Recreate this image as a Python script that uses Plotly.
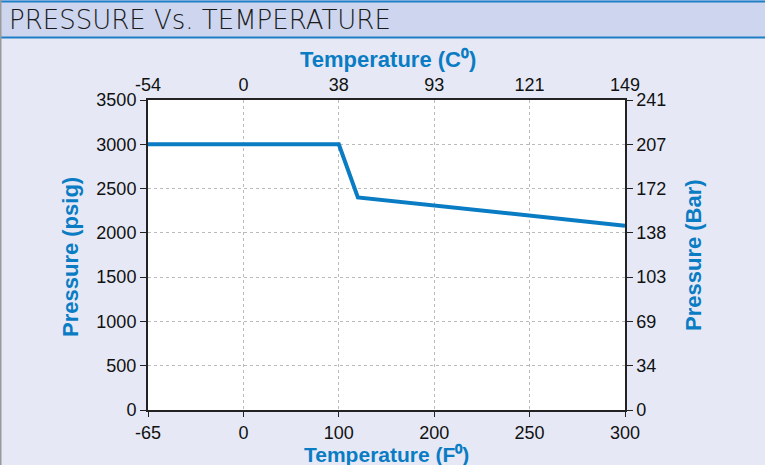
import numpy as np
import plotly.graph_objects as go

# Tick labels (evenly spaced on the chart)
temp_f_ticks = [-65, 0, 100, 200, 250, 300]
temp_c_ticks = ["-54", "0", "38", "93", "121", "149"]
psig_ticks = [0, 500, 1000, 1500, 2000, 2500, 3000, 3500]
bar_ticks = ["0", "34", "69", "103", "138", "172", "207", "241"]

# Series
temp_f = [-65, 100, 120, 300]
pressure_psig = [3000, 3000, 2400, 2080]

# Axis positions: ticks are evenly spaced, so map F values piecewise onto tick index
tick_pos = list(range(len(temp_f_ticks)))
x_pos = np.interp(temp_f, temp_f_ticks, tick_pos)

blue = "#0a7cc4"
bg = "#e6e9f5"
tickfont = dict(family="Liberation Sans, Arial", size=18, color="#111111")
titlefont = dict(family="Liberation Sans, Arial", size=22, color=blue)

fig = go.Figure()
fig.add_trace(go.Scatter(x=x_pos, y=pressure_psig, mode="lines",
                         line=dict(color=blue, width=4), showlegend=False,
                         hoverinfo="skip"))
fig.add_trace(go.Scatter(x=x_pos, y=pressure_psig, mode="lines", xaxis="x2", yaxis="y2",
                         line=dict(color="rgba(0,0,0,0)", width=0), showlegend=False,
                         hoverinfo="skip"))

common_x = dict(range=[0, len(temp_f_ticks) - 1], tickvals=tick_pos, showline=True,
                linecolor="#222222", linewidth=2, ticks="outside", ticklen=6,
                tickcolor="#222222", tickfont=tickfont, zeroline=False, automargin=False)
common_y = dict(range=[0, 3500], tickvals=psig_ticks, showline=True,
                linecolor="#222222", linewidth=2, ticks="outside", ticklen=6,
                tickcolor="#222222", tickfont=tickfont, zeroline=False, automargin=False)

# plot area in pixels: x 148..625, y 100..410
def px(xp):
    return (xp - 148) / 477.0

def py(yp):
    return (410 - yp) / 310.0

fig.update_layout(
    width=765, height=465,
    margin=dict(l=148, r=140, t=100, b=55),
    paper_bgcolor=bg,
    plot_bgcolor="#ffffff",
    xaxis=dict(common_x, ticktext=[str(v) for v in temp_f_ticks], ticklen=5,
               showgrid=True, gridcolor="#bbbbbb", griddash="dot", gridwidth=1),
    xaxis2=dict(common_x, ticktext=temp_c_ticks, overlaying="x", side="top",
                showgrid=False, linewidth=1.5, ticks=""),
    yaxis=dict(common_y, ticktext=[str(v) for v in psig_ticks],
               showgrid=True, gridcolor="#bbbbbb", griddash="dot", gridwidth=1),
    yaxis2=dict(common_y, ticktext=bar_ticks, overlaying="y", side="right",
                showgrid=False, linewidth=1.5),
    shapes=[
        dict(type="rect", xref="paper", yref="paper", x0=px(-5), x1=px(770),
             y0=py(37), y1=py(-5), fillcolor="#cdd6ee", line=dict(width=0), layer="below"),
        dict(type="line", xref="paper", yref="paper", x0=px(-5), x1=px(770),
             y0=py(37.5), y1=py(37.5), line=dict(color="#1f7fc6", width=2)),
        dict(type="line", xref="paper", yref="paper", x0=px(-5), x1=px(770),
             y0=py(1.5), y1=py(1.5), line=dict(color="#1f7fc6", width=2)),
        dict(type="line", xref="paper", yref="paper", x0=px(0.75), x1=px(0.75),
             y0=py(0), y1=py(470), line=dict(color="#9a9a9a", width=1.5)),
    ],
    annotations=[
        dict(text="PRESSURE Vs. TEMPERATURE", xref="paper", yref="paper",
             x=px(7), y=py(20), xanchor="left", yanchor="middle", showarrow=False,
             font=dict(family="DejaVu Sans", size=26, weight=200, color="#1a1a1a")),
        dict(text="<b>Temperature (C⁰)</b>", xref="paper", yref="paper",
             x=px(388), y=py(60), xanchor="center", yanchor="middle", showarrow=False,
             font=titlefont),
        dict(text="<b>Temperature (F⁰)</b>", xref="paper", yref="paper",
             x=px(386), y=py(454), xanchor="center", yanchor="middle", showarrow=False,
             font=dict(titlefont, size=21)),
        dict(text="<b>Pressure (psig)</b>", xref="paper", yref="paper",
             x=px(70), y=py(257), xanchor="center", yanchor="middle", showarrow=False,
             textangle=-90, font=titlefont),
        dict(text="<b>Pressure (Bar)</b>", xref="paper", yref="paper",
             x=px(693), y=py(255), xanchor="center", yanchor="middle", showarrow=False,
             textangle=-90, font=titlefont),
    ],
)

fig.write_html("out.html", config={"displayModeBar": False},
               post_script="document.body.style.margin='0';"
                           "document.body.style.background='%s';" % bg)
